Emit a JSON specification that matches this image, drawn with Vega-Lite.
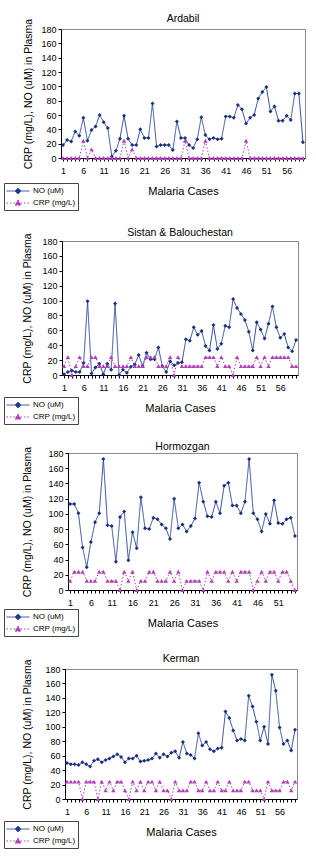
{
  "$schema": "https://vega.github.io/schema/vega-lite/v6.json",
  "background": "white",
  "padding": {"left": 2, "top": 13, "right": 0, "bottom": 0},
  "spacing": 16,
  "datasets": {
    "ardabil": [
      {"case":1,"NO":18,"CRP":0},{"case":2,"NO":25,"CRP":0},{"case":3,"NO":23,"CRP":0},{"case":4,"NO":37,"CRP":0},{"case":5,"NO":31,"CRP":0},{"case":6,"NO":56,"CRP":24},{"case":7,"NO":24,"CRP":0},{"case":8,"NO":39,"CRP":12},{"case":9,"NO":44,"CRP":0},{"case":10,"NO":60,"CRP":0},
      {"case":11,"NO":50,"CRP":0},{"case":12,"NO":42,"CRP":0},{"case":13,"NO":2,"CRP":0},{"case":14,"NO":10,"CRP":0},{"case":15,"NO":27,"CRP":0},{"case":16,"NO":59,"CRP":24},{"case":17,"NO":27,"CRP":0},{"case":18,"NO":18,"CRP":12},{"case":19,"NO":18,"CRP":0},{"case":20,"NO":40,"CRP":0},
      {"case":21,"NO":28,"CRP":0},{"case":22,"NO":28,"CRP":0},{"case":23,"NO":76,"CRP":0},{"case":24,"NO":16,"CRP":0},{"case":25,"NO":18,"CRP":0},{"case":26,"NO":18,"CRP":0},{"case":27,"NO":18,"CRP":0},{"case":28,"NO":11,"CRP":0},{"case":29,"NO":51,"CRP":0},{"case":30,"NO":28,"CRP":0},
      {"case":31,"NO":28,"CRP":24},{"case":32,"NO":18,"CRP":0},{"case":33,"NO":14,"CRP":0},{"case":34,"NO":26,"CRP":0},{"case":35,"NO":57,"CRP":0},{"case":36,"NO":32,"CRP":24},{"case":37,"NO":26,"CRP":0},{"case":38,"NO":28,"CRP":0},{"case":39,"NO":26,"CRP":0},{"case":40,"NO":27,"CRP":0},
      {"case":41,"NO":58,"CRP":0},{"case":42,"NO":58,"CRP":0},{"case":43,"NO":56,"CRP":0},{"case":44,"NO":74,"CRP":0},{"case":45,"NO":68,"CRP":0},{"case":46,"NO":48,"CRP":24},{"case":47,"NO":56,"CRP":0},{"case":48,"NO":60,"CRP":0},{"case":49,"NO":83,"CRP":0},{"case":50,"NO":92,"CRP":0},
      {"case":51,"NO":99,"CRP":0},{"case":52,"NO":65,"CRP":0},{"case":53,"NO":72,"CRP":0},{"case":54,"NO":52,"CRP":0},{"case":55,"NO":52,"CRP":0},{"case":56,"NO":59,"CRP":0},{"case":57,"NO":53,"CRP":0},{"case":58,"NO":90,"CRP":0},{"case":59,"NO":90,"CRP":0},{"case":60,"NO":22,"CRP":0}
    ],
    "sistan": [
      {"case":1,"NO":1,"CRP":12},{"case":2,"NO":4,"CRP":24},{"case":3,"NO":6,"CRP":0},{"case":4,"NO":4,"CRP":12},{"case":5,"NO":4,"CRP":24},{"case":6,"NO":16,"CRP":12},{"case":7,"NO":99,"CRP":12},{"case":8,"NO":2,"CRP":24},{"case":9,"NO":10,"CRP":24},{"case":10,"NO":15,"CRP":12},
      {"case":11,"NO":1,"CRP":12},{"case":12,"NO":15,"CRP":12},{"case":13,"NO":7,"CRP":24},{"case":14,"NO":96,"CRP":12},{"case":15,"NO":0,"CRP":12},{"case":16,"NO":7,"CRP":12},{"case":17,"NO":3,"CRP":12},{"case":18,"NO":11,"CRP":24},{"case":19,"NO":14,"CRP":12},{"case":20,"NO":27,"CRP":12},
      {"case":21,"NO":12,"CRP":12},{"case":22,"NO":30,"CRP":24},{"case":23,"NO":21,"CRP":24},{"case":24,"NO":21,"CRP":24},{"case":25,"NO":37,"CRP":12},{"case":26,"NO":12,"CRP":12},{"case":27,"NO":4,"CRP":12},{"case":28,"NO":18,"CRP":24},{"case":29,"NO":13,"CRP":0},{"case":30,"NO":16,"CRP":24},
      {"case":31,"NO":17,"CRP":12},{"case":32,"NO":48,"CRP":12},{"case":33,"NO":46,"CRP":12},{"case":34,"NO":64,"CRP":12},{"case":35,"NO":54,"CRP":12},{"case":36,"NO":59,"CRP":12},{"case":37,"NO":39,"CRP":24},{"case":38,"NO":33,"CRP":24},{"case":39,"NO":67,"CRP":24},{"case":40,"NO":35,"CRP":12},
      {"case":41,"NO":42,"CRP":24},{"case":42,"NO":66,"CRP":12},{"case":43,"NO":64,"CRP":12},{"case":44,"NO":102,"CRP":0},{"case":45,"NO":90,"CRP":24},{"case":46,"NO":82,"CRP":12},{"case":47,"NO":74,"CRP":12},{"case":48,"NO":58,"CRP":12},{"case":49,"NO":33,"CRP":12},{"case":50,"NO":71,"CRP":24},
      {"case":51,"NO":61,"CRP":12},{"case":52,"NO":49,"CRP":24},{"case":53,"NO":69,"CRP":12},{"case":54,"NO":92,"CRP":24},{"case":55,"NO":64,"CRP":24},{"case":56,"NO":50,"CRP":24},{"case":57,"NO":55,"CRP":24},{"case":58,"NO":37,"CRP":24},{"case":59,"NO":32,"CRP":12},{"case":60,"NO":47,"CRP":12}
    ],
    "hormozgan": [
      {"case":1,"NO":113,"CRP":12},{"case":2,"NO":113,"CRP":24},{"case":3,"NO":101,"CRP":24},{"case":4,"NO":56,"CRP":24},{"case":5,"NO":30,"CRP":12},{"case":6,"NO":63,"CRP":12},{"case":7,"NO":89,"CRP":12},{"case":8,"NO":101,"CRP":24},{"case":9,"NO":172,"CRP":24},{"case":10,"NO":85,"CRP":12},
      {"case":11,"NO":84,"CRP":12},{"case":12,"NO":37,"CRP":12},{"case":13,"NO":96,"CRP":0},{"case":14,"NO":103,"CRP":24},{"case":15,"NO":39,"CRP":12},{"case":16,"NO":76,"CRP":24},{"case":17,"NO":55,"CRP":0},{"case":18,"NO":122,"CRP":12},{"case":19,"NO":81,"CRP":12},{"case":20,"NO":80,"CRP":24},
      {"case":21,"NO":95,"CRP":24},{"case":22,"NO":93,"CRP":12},{"case":23,"NO":86,"CRP":12},{"case":24,"NO":81,"CRP":12},{"case":25,"NO":67,"CRP":24},{"case":26,"NO":120,"CRP":12},{"case":27,"NO":81,"CRP":24},{"case":28,"NO":86,"CRP":0},{"case":29,"NO":77,"CRP":12},{"case":30,"NO":84,"CRP":12},
      {"case":31,"NO":94,"CRP":12},{"case":32,"NO":141,"CRP":12},{"case":33,"NO":116,"CRP":0},{"case":34,"NO":97,"CRP":24},{"case":35,"NO":96,"CRP":12},{"case":36,"NO":116,"CRP":24},{"case":37,"NO":101,"CRP":24},{"case":38,"NO":137,"CRP":24},{"case":39,"NO":141,"CRP":12},{"case":40,"NO":111,"CRP":24},
      {"case":41,"NO":111,"CRP":12},{"case":42,"NO":101,"CRP":24},{"case":43,"NO":116,"CRP":24},{"case":44,"NO":172,"CRP":24},{"case":45,"NO":101,"CRP":0},{"case":46,"NO":93,"CRP":12},{"case":47,"NO":77,"CRP":24},{"case":48,"NO":100,"CRP":12},{"case":49,"NO":87,"CRP":24},{"case":50,"NO":118,"CRP":24},
      {"case":51,"NO":88,"CRP":12},{"case":52,"NO":87,"CRP":24},{"case":53,"NO":93,"CRP":24},{"case":54,"NO":95,"CRP":12},{"case":55,"NO":71,"CRP":0}
    ],
    "kerman": [
      {"case":1,"NO":50,"CRP":24},{"case":2,"NO":48,"CRP":24},{"case":3,"NO":48,"CRP":24},{"case":4,"NO":47,"CRP":24},{"case":5,"NO":51,"CRP":0},{"case":6,"NO":48,"CRP":24},{"case":7,"NO":45,"CRP":24},{"case":8,"NO":53,"CRP":24},{"case":9,"NO":55,"CRP":0},{"case":10,"NO":51,"CRP":24},
      {"case":11,"NO":54,"CRP":12},{"case":12,"NO":56,"CRP":24},{"case":13,"NO":59,"CRP":12},{"case":14,"NO":62,"CRP":24},{"case":15,"NO":58,"CRP":24},{"case":16,"NO":51,"CRP":12},{"case":17,"NO":56,"CRP":0},{"case":18,"NO":56,"CRP":24},{"case":19,"NO":60,"CRP":12},{"case":20,"NO":52,"CRP":24},
      {"case":21,"NO":53,"CRP":12},{"case":22,"NO":54,"CRP":24},{"case":23,"NO":56,"CRP":24},{"case":24,"NO":63,"CRP":12},{"case":25,"NO":57,"CRP":24},{"case":26,"NO":62,"CRP":12},{"case":27,"NO":59,"CRP":12},{"case":28,"NO":64,"CRP":0},{"case":29,"NO":66,"CRP":24},{"case":30,"NO":57,"CRP":12},
      {"case":31,"NO":79,"CRP":12},{"case":32,"NO":63,"CRP":12},{"case":33,"NO":61,"CRP":24},{"case":34,"NO":56,"CRP":24},{"case":35,"NO":91,"CRP":12},{"case":36,"NO":74,"CRP":12},{"case":37,"NO":79,"CRP":24},{"case":38,"NO":69,"CRP":12},{"case":39,"NO":66,"CRP":12},{"case":40,"NO":70,"CRP":24},
      {"case":41,"NO":71,"CRP":12},{"case":42,"NO":121,"CRP":12},{"case":43,"NO":112,"CRP":24},{"case":44,"NO":95,"CRP":12},{"case":45,"NO":81,"CRP":12},{"case":46,"NO":83,"CRP":12},{"case":47,"NO":81,"CRP":24},{"case":48,"NO":143,"CRP":24},{"case":49,"NO":128,"CRP":12},{"case":50,"NO":107,"CRP":12},
      {"case":51,"NO":81,"CRP":12},{"case":52,"NO":100,"CRP":0},{"case":53,"NO":76,"CRP":24},{"case":54,"NO":172,"CRP":12},{"case":55,"NO":150,"CRP":12},{"case":56,"NO":99,"CRP":12},{"case":57,"NO":76,"CRP":24},{"case":58,"NO":81,"CRP":24},{"case":59,"NO":67,"CRP":12},{"case":60,"NO":96,"CRP":24}
    ]
  },
  "vconcat": [
    {"spacing": 0,
     "resolve": {"scale": {"color": "independent", "strokeDash": "independent"}, "legend": {"color": "independent", "strokeDash": "independent"}},
     "hconcat": [
      {"data": {"values": []}, "width": 1, "height": 1, "mark": "point", "view": {"stroke": null}},
      {
      "data": {"name": "ardabil"},
      "width": 244, "height": 129,
      "title": {"text": "Ardabil"},
      "transform": [{"fold": ["NO", "CRP"], "as": ["series", "value"]}],
      "encoding": {
        "x": {"field": "case", "type": "ordinal", "scale": {"type": "point", "padding": 0.5}, "title": "Malaria Cases",
              "axis": {"labelExpr": "(datum.value - 1) % 5 == 0 ? datum.value : ''"}},
        "y": {"field": "value", "type": "quantitative", "scale": {"domain": [0, 180]}, "title": "CRP (mg/L), NO (uM) in Plasma",
              "axis": {"values": [0,20,40,60,80,100,120,140,160,180], "titlePadding": 7.5}}
      },
      "layer": [
        {"mark": {"type": "line", "strokeWidth": 1},
         "encoding": {
           "color": {"field": "series", "type": "nominal", "scale": {"domain": ["NO", "CRP"], "range": ["#2d4c9f", "#b040b8"]},
                     "legend": {"legendX": -57, "legendY": 154, "labelExpr": "datum.value == 'NO' ? 'NO (uM)' : 'CRP (mg/L)'", "encode": {"symbols": {"update": {"shape": {"signal": "datum.value === 'NO' ? 'M-1,0H3.2M1.1,-0.55L1.65,0L1.1,0.55L0.55,0Z' : 'M-1,0H3.2M1.1,-0.55L1.65,0.4L0.55,0.4Z'"}, "fill": {"signal": "datum.value === 'NO' ? '#1a2f80' : '#b040b8'"}, "fillOpacity": {"value": 1}}}}}},
           "strokeDash": {"field": "series", "type": "nominal", "scale": {"domain": ["NO", "CRP"], "range": [[1, 0], [1.5, 2]]},
                     "legend": {"legendX": -57, "legendY": 154, "labelExpr": "datum.value == 'NO' ? 'NO (uM)' : 'CRP (mg/L)'", "encode": {"symbols": {"update": {"shape": {"signal": "datum.value === 'NO' ? 'M-1,0H3.2M1.1,-0.55L1.65,0L1.1,0.55L0.55,0Z' : 'M-1,0H3.2M1.1,-0.55L1.65,0.4L0.55,0.4Z'"}, "fill": {"signal": "datum.value === 'NO' ? '#1a2f80' : '#b040b8'"}, "fillOpacity": {"value": 1}}}}}}
         }},
        {"transform": [{"filter": "datum.series == 'NO'"}], "mark": {"type": "point", "shape": "diamond", "filled": true, "size": 16, "color": "#1a2f80", "opacity": 1}},
        {"transform": [{"filter": "datum.series == 'CRP'"}], "mark": {"type": "point", "shape": "triangle-up", "filled": true, "size": 20, "color": "#b040b8", "opacity": 1}}
      ]
    }]},
    {"spacing": 0,
     "resolve": {"scale": {"color": "independent", "strokeDash": "independent"}, "legend": {"color": "independent", "strokeDash": "independent"}},
     "hconcat": [
      {"data": {"values": []}, "width": 1, "height": 1, "mark": "point", "view": {"stroke": null}},
      {
      "data": {"name": "sistan"},
      "width": 236, "height": 134,
      "title": {"text": "Sistan & Balouchestan"},
      "transform": [{"fold": ["NO", "CRP"], "as": ["series", "value"]}],
      "encoding": {
        "x": {"field": "case", "type": "ordinal", "scale": {"type": "point", "padding": 0.5}, "title": "Malaria Cases",
              "axis": {"labelExpr": "(datum.value - 1) % 5 == 0 ? datum.value : ''"}},
        "y": {"field": "value", "type": "quantitative", "scale": {"domain": [0, 180]}, "title": "CRP (mg/L), NO (uM) in Plasma",
              "axis": {"values": [0,20,40,60,80,100,120,140,160,180], "titlePadding": 9}}
      },
      "layer": [
        {"mark": {"type": "line", "strokeWidth": 1},
         "encoding": {
           "color": {"field": "series", "type": "nominal", "scale": {"domain": ["NO", "CRP"], "range": ["#2d4c9f", "#b040b8"]},
                     "legend": {"legendX": -58, "legendY": 156, "labelExpr": "datum.value == 'NO' ? 'NO (uM)' : 'CRP (mg/L)'", "encode": {"symbols": {"update": {"shape": {"signal": "datum.value === 'NO' ? 'M-1,0H3.2M1.1,-0.55L1.65,0L1.1,0.55L0.55,0Z' : 'M-1,0H3.2M1.1,-0.55L1.65,0.4L0.55,0.4Z'"}, "fill": {"signal": "datum.value === 'NO' ? '#1a2f80' : '#b040b8'"}, "fillOpacity": {"value": 1}}}}}},
           "strokeDash": {"field": "series", "type": "nominal", "scale": {"domain": ["NO", "CRP"], "range": [[1, 0], [1.5, 2]]},
                     "legend": {"legendX": -58, "legendY": 156, "labelExpr": "datum.value == 'NO' ? 'NO (uM)' : 'CRP (mg/L)'", "encode": {"symbols": {"update": {"shape": {"signal": "datum.value === 'NO' ? 'M-1,0H3.2M1.1,-0.55L1.65,0L1.1,0.55L0.55,0Z' : 'M-1,0H3.2M1.1,-0.55L1.65,0.4L0.55,0.4Z'"}, "fill": {"signal": "datum.value === 'NO' ? '#1a2f80' : '#b040b8'"}, "fillOpacity": {"value": 1}}}}}}
         }},
        {"transform": [{"filter": "datum.series == 'NO'"}], "mark": {"type": "point", "shape": "diamond", "filled": true, "size": 16, "color": "#1a2f80", "opacity": 1}},
        {"transform": [{"filter": "datum.series == 'CRP'"}], "mark": {"type": "point", "shape": "triangle-up", "filled": true, "size": 20, "color": "#b040b8", "opacity": 1}}
      ]
    }]},
    {"spacing": 0,
     "resolve": {"scale": {"color": "independent", "strokeDash": "independent"}, "legend": {"color": "independent", "strokeDash": "independent"}},
     "hconcat": [
      {"data": {"values": []}, "width": 1, "height": 1, "mark": "point", "view": {"stroke": null}},
      {
      "data": {"name": "hormozgan"},
      "width": 229, "height": 137,
      "title": {"text": "Hormozgan"},
      "transform": [{"fold": ["NO", "CRP"], "as": ["series", "value"]}],
      "encoding": {
        "x": {"field": "case", "type": "ordinal", "scale": {"type": "point", "padding": 0.5}, "title": "Malaria Cases",
              "axis": {"labelExpr": "(datum.value - 1) % 5 == 0 ? datum.value : ''"}},
        "y": {"field": "value", "type": "quantitative", "scale": {"domain": [0, 180]}, "title": "CRP (mg/L), NO (uM) in Plasma",
              "axis": {"values": [0,20,40,60,80,100,120,140,160,180], "titlePadding": 15}}
      },
      "layer": [
        {"mark": {"type": "line", "strokeWidth": 1},
         "encoding": {
           "color": {"field": "series", "type": "nominal", "scale": {"domain": ["NO", "CRP"], "range": ["#2d4c9f", "#b040b8"]},
                     "legend": {"legendX": -64, "legendY": 156, "labelExpr": "datum.value == 'NO' ? 'NO (uM)' : 'CRP (mg/L)'", "encode": {"symbols": {"update": {"shape": {"signal": "datum.value === 'NO' ? 'M-1,0H3.2M1.1,-0.55L1.65,0L1.1,0.55L0.55,0Z' : 'M-1,0H3.2M1.1,-0.55L1.65,0.4L0.55,0.4Z'"}, "fill": {"signal": "datum.value === 'NO' ? '#1a2f80' : '#b040b8'"}, "fillOpacity": {"value": 1}}}}}},
           "strokeDash": {"field": "series", "type": "nominal", "scale": {"domain": ["NO", "CRP"], "range": [[1, 0], [1.5, 2]]},
                     "legend": {"legendX": -64, "legendY": 156, "labelExpr": "datum.value == 'NO' ? 'NO (uM)' : 'CRP (mg/L)'", "encode": {"symbols": {"update": {"shape": {"signal": "datum.value === 'NO' ? 'M-1,0H3.2M1.1,-0.55L1.65,0L1.1,0.55L0.55,0Z' : 'M-1,0H3.2M1.1,-0.55L1.65,0.4L0.55,0.4Z'"}, "fill": {"signal": "datum.value === 'NO' ? '#1a2f80' : '#b040b8'"}, "fillOpacity": {"value": 1}}}}}}
         }},
        {"transform": [{"filter": "datum.series == 'NO'"}], "mark": {"type": "point", "shape": "diamond", "filled": true, "size": 16, "color": "#1a2f80", "opacity": 1}},
        {"transform": [{"filter": "datum.series == 'CRP'"}], "mark": {"type": "point", "shape": "triangle-up", "filled": true, "size": 20, "color": "#b040b8", "opacity": 1}}
      ]
    }]},
    {"spacing": 0,
     "resolve": {"scale": {"color": "independent", "strokeDash": "independent"}, "legend": {"color": "independent", "strokeDash": "independent"}},
     "hconcat": [
      {"data": {"values": []}, "width": 1, "height": 1, "mark": "point", "view": {"stroke": null}},
      {
      "data": {"name": "kerman"},
      "width": 232, "height": 130,
      "title": {"text": "Kerman"},
      "transform": [{"fold": ["NO", "CRP"], "as": ["series", "value"]}],
      "encoding": {
        "x": {"field": "case", "type": "ordinal", "scale": {"type": "point", "padding": 0.5}, "title": "Malaria Cases",
              "axis": {"labelExpr": "(datum.value - 1) % 5 == 0 ? datum.value : ''"}},
        "y": {"field": "value", "type": "quantitative", "scale": {"domain": [0, 180]}, "title": "CRP (mg/L), NO (uM) in Plasma",
              "axis": {"values": [0,20,40,60,80,100,120,140,160,180], "titlePadding": 12}}
      },
      "layer": [
        {"mark": {"type": "line", "strokeWidth": 1},
         "encoding": {
           "color": {"field": "series", "type": "nominal", "scale": {"domain": ["NO", "CRP"], "range": ["#2d4c9f", "#b040b8"]},
                     "legend": {"legendX": -61, "legendY": 152, "labelExpr": "datum.value == 'NO' ? 'NO (uM)' : 'CRP (mg/L)'", "encode": {"symbols": {"update": {"shape": {"signal": "datum.value === 'NO' ? 'M-1,0H3.2M1.1,-0.55L1.65,0L1.1,0.55L0.55,0Z' : 'M-1,0H3.2M1.1,-0.55L1.65,0.4L0.55,0.4Z'"}, "fill": {"signal": "datum.value === 'NO' ? '#1a2f80' : '#b040b8'"}, "fillOpacity": {"value": 1}}}}}},
           "strokeDash": {"field": "series", "type": "nominal", "scale": {"domain": ["NO", "CRP"], "range": [[1, 0], [1.5, 2]]},
                     "legend": {"legendX": -61, "legendY": 152, "labelExpr": "datum.value == 'NO' ? 'NO (uM)' : 'CRP (mg/L)'", "encode": {"symbols": {"update": {"shape": {"signal": "datum.value === 'NO' ? 'M-1,0H3.2M1.1,-0.55L1.65,0L1.1,0.55L0.55,0Z' : 'M-1,0H3.2M1.1,-0.55L1.65,0.4L0.55,0.4Z'"}, "fill": {"signal": "datum.value === 'NO' ? '#1a2f80' : '#b040b8'"}, "fillOpacity": {"value": 1}}}}}}
         }},
        {"transform": [{"filter": "datum.series == 'NO'"}], "mark": {"type": "point", "shape": "diamond", "filled": true, "size": 16, "color": "#1a2f80", "opacity": 1}},
        {"transform": [{"filter": "datum.series == 'CRP'"}], "mark": {"type": "point", "shape": "triangle-up", "filled": true, "size": 20, "color": "#b040b8", "opacity": 1}}
      ]
    }]}
  ],
  "resolve": {"scale": {"color": "independent", "strokeDash": "independent"}, "legend": {"color": "independent", "strokeDash": "independent"}},
  "config": {
    "font": "Liberation Sans",
    "view": {"stroke": "#8a8a8a", "strokeWidth": 1},
    "title": {"fontSize": 10.5, "fontWeight": "normal", "color": "#000", "offset": -6},
    "axis": {"grid": false, "domainColor": "#000", "tickColor": "#000", "labelColor": "#000", "titleColor": "#000",
             "labelFontSize": 9, "titleFontSize": 10.5, "titleFontWeight": "normal", "tickSize": 3, "labelPadding": 2},
    "axisX": {"labelAngle": 0, "labelOverlap": false, "labelPadding": 5, "titleFontSize": 11, "titleFontWeight": "normal", "titlePadding": 10},
    "axisY": {"titleFontWeight": "normal"},
    "legend": {"orient": "none", "title": null, "strokeColor": "#444", "padding": 2, "labelFontSize": 8, "labelColor": "#000",
               "symbolSize": 121, "symbolStrokeWidth": 1, "rowPadding": 0, "labelOffset": 15,
               "symbolType": "M-1,0H3.2"}
  }
}
